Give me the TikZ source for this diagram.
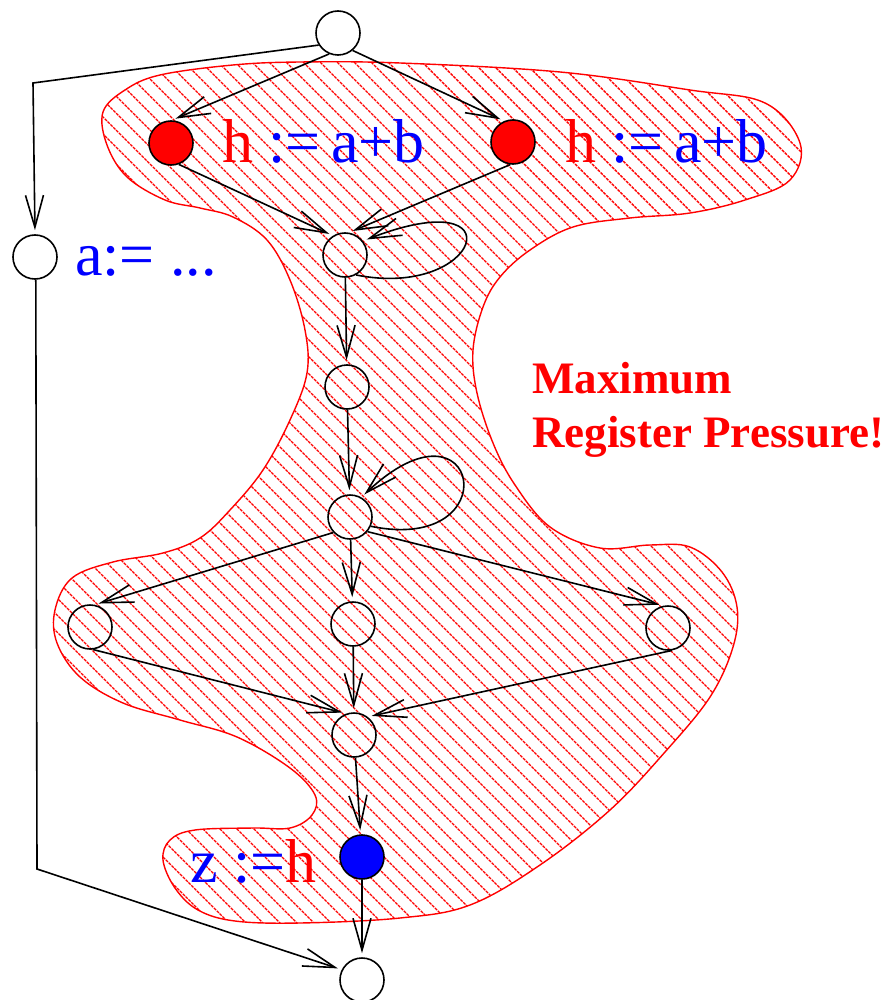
\documentclass[tikz,border=0pt]{standalone}
\usepackage{fontspec}
\setmainfont{Liberation Serif}
\usetikzlibrary{arrows.meta}
\definecolor{pr}{RGB}{255,0,0}
\definecolor{pb}{RGB}{0,0,255}
\begin{document}
\begin{tikzpicture}[x=1pt,y=-1pt,
  vtx/.style={circle,draw,line width=1.6pt,minimum size=44pt,inner sep=0pt},
  edge/.style={line width=1.6pt,shorten >=4pt,-{Straight Barb[length=32pt,width=18pt]}},
  hatch/.style={draw=pr,line width=1.4pt,dash pattern=on 3pt off 1pt},
  blobline/.style={draw=pr,line width=1.4pt},
  biglabel/.style={anchor=base west,inner sep=0pt,font=\fontsize{62}{62}\selectfont},
  note/.style={anchor=base west,inner sep=0pt,align=left,text=pr,font=\fontsize{45}{54}\selectfont\bfseries}]
\useasboundingbox (0,0) rectangle (895,1000);
\def\blobpath{plot[smooth cycle,tension=0.6] coordinates {
(103,112) (125,90) (160,75) (233,65) (300,62) (400,63) (560,72) (690,90) (765,103)
(800,143) (790,180) (745,200) (690,213) (630,218) (573,227) (530,250) (500,277)
(483,307) (473,350) (477,393) (493,443) (515,485) (550,527) (600,548) (650,545)
(690,547) (722,572) (737,607) (733,647) (710,697) (665,752) (610,810) (540,865)
(470,905) (400,918) (300,923) (235,921) (198,910) (175,888) (163,860) (170,840)
(195,830) (253,828) (290,828) (312,815) (315,795) (290,768) (237,737) (180,720)
(123,703) (80,677) (57,643) (55,610) (72,578) (113,562) (163,553) (200,538)
(230,510) (263,470) (290,420) (307,373) (305,330) (290,280) (267,240) (233,217)
(200,208) (165,200) (127,177) (107,145)}}
\begin{scope}
\clip \blobpath;
\foreach \c in {-1000,-983,...,900} \draw[hatch] (\c,0) -- ++(1000,1000);
\end{scope}
\draw[blobline] \blobpath;

\node[vtx] (top) at (338,33) {};
\node[vtx,fill=pr] (red1) at (171,143) {};
\node[vtx,fill=pr] (red2) at (513,142) {};
\node[vtx] (a) at (35,257) {};
\node[vtx] (n1) at (345,255) {};
\node[vtx] (n2) at (347,387) {};
\node[vtx] (n3) at (350,517) {};
\node[vtx] (left) at (90,627) {};
\node[vtx] (mid) at (353,624) {};
\node[vtx] (right) at (668,628) {};
\node[vtx] (n4) at (354,735) {};
\node[vtx,fill=pb] (blue) at (362,857) {};
\node[vtx] (bot) at (362,980) {};

\node[biglabel,text=pb] (l1) at (222,163) {\textcolor{pr}{h} :=\,a+b};
\node[biglabel,text=pb] (l2) at (565,163) {\textcolor{pr}{h} :=\,a+b};
\node[biglabel,text=pb] (l3) at (75,275) {a:= ...};
\node[biglabel,text=pb] (l4) at (190,882) {z :=\textcolor{pr}{h}};
\node[note] (l5) at (532,447) {Maximum\\Register Pressure!};

\coordinate (c1) at (33,83);
\coordinate (c2) at (37,869);
\draw[edge] (top.247) -- (red1.88);
\draw[edge] (top.-50) -- (red2.113);
\draw[edge] (top.212) -- (c1) -- (a.north);
\draw[edge] (red1.-70) -- (n1.122);
\draw[edge] (red2.-97) -- (n1.80);
\draw[edge] (n1.-61) .. controls (480,300) and (520,180) .. (n1.38);
\draw[edge] (n1) -- (n2);
\draw[edge] (n2) -- (n3);
\draw[edge] (n3.-24) .. controls (510,555) and (480,385) .. (n3.60);
\draw[edge] (n3.223) -- (left.78);
\draw[edge] (n3) -- (mid);
\draw[edge] (n3.-40) -- (right.102);
\draw[edge] (left.-82) -- (n4.110);
\draw[edge] (mid) -- (n4);
\draw[edge] (right.-80) -- (n4.53);
\draw[edge] (n4) -- (blue);
\draw[edge] (blue) -- (bot);
\draw[edge] (a.-88) -- (c2) -- (bot.153);
\end{tikzpicture}
\end{document}
